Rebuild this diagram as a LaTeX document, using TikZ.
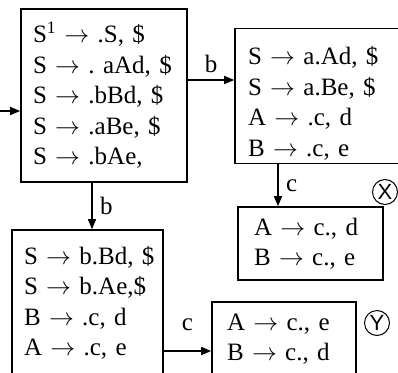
\documentclass[tikz,border=0pt]{standalone}
\usepackage{fontspec}
\setmainfont{Liberation Serif}
\newfontfamily\marksf{Liberation Sans}
\usetikzlibrary{arrows.meta}

\tikzset{
  item/.style={draw, line width=1.6pt, align=left, font=\fontsize{25}{30.5}\selectfont},
  edge/.style={line width=1.5pt, -{Triangle[length=10pt,width=8pt]}},
  lbl/.style={font=\fontsize{25}{30}\selectfont},
  circ/.style={draw, circle, line width=1pt, inner sep=0pt, minimum size=25pt,
    font=\marksf\fontsize{22}{22}\selectfont}
}

\begin{document}
\begin{tikzpicture}[x=1pt,y=-1pt]
\useasboundingbox (0,0) rectangle (398,372);

% item sets
\node[item, inner xsep=12pt, text width=142pt, minimum height=173pt] (s0) at (104,95.5)
  {S\textsuperscript{1}~$\rightarrow$~.S,~\$\\
   S~$\rightarrow$~.~aAd,~\$\\
   S~$\rightarrow$~.bBd,~\$\\
   S~$\rightarrow$~.aBe,~\$\\
   S~$\rightarrow$~.bAe,};
\node[item, inner xsep=13pt, text width=141pt, minimum height=120pt] (s1) at (318.5,96)
  {\rule{0pt}{33pt}S~$\rightarrow$~a.Ad,~\$\\
   S~$\rightarrow$~a.Be,~\$\\
   A~$\rightarrow$~.c,~d\\
   B~$\rightarrow$~.c,~e};
\node[item, inner xsep=12pt, text width=127pt, minimum height=146pt] (s2) at (87.5,303)
  {S~$\rightarrow$~b.Bd,~\$\\
   S~$\rightarrow$~b.Ae,\$\\
   B~$\rightarrow$~.c,~d\\
   A~$\rightarrow$~.c,~e};
\node[item, inner xsep=16pt, text width=113pt, minimum height=73pt] (s3) at (310.5,243.5)
  {A~$\rightarrow$~c.,~d\\
   B~$\rightarrow$~c.,~e};
\node[item, inner xsep=15pt, text width=114pt, minimum height=74pt] (s4) at (284,339)
  {A~$\rightarrow$~c.,~e\\
   B~$\rightarrow$~c.,~d};

\node[circ] (x) at (385,192) {X};
\node[circ] (y) at (377,323) {Y};

% transitions
\coordinate (in) at (0,111);
\draw[edge] (in) -- (in -| s0.west);
\draw[edge] (s0.east |- 0,80) -- (s1.west |- 0,80) node[lbl, midway, above=3pt] {b};
\draw[edge] (s0.south -| 92,0) -- (s2.north -| 92,0) node[lbl, midway, right=4pt] {b};
\draw[edge] (s1.south -| 278,0) -- (s3.north -| 278,0) node[lbl, midway, right=4pt] {c};
\draw[edge] (s2.east |- 0,351) -- (s4.west |- 0,351) node[lbl, midway, above=16pt] {c};
\end{tikzpicture}
\end{document}
